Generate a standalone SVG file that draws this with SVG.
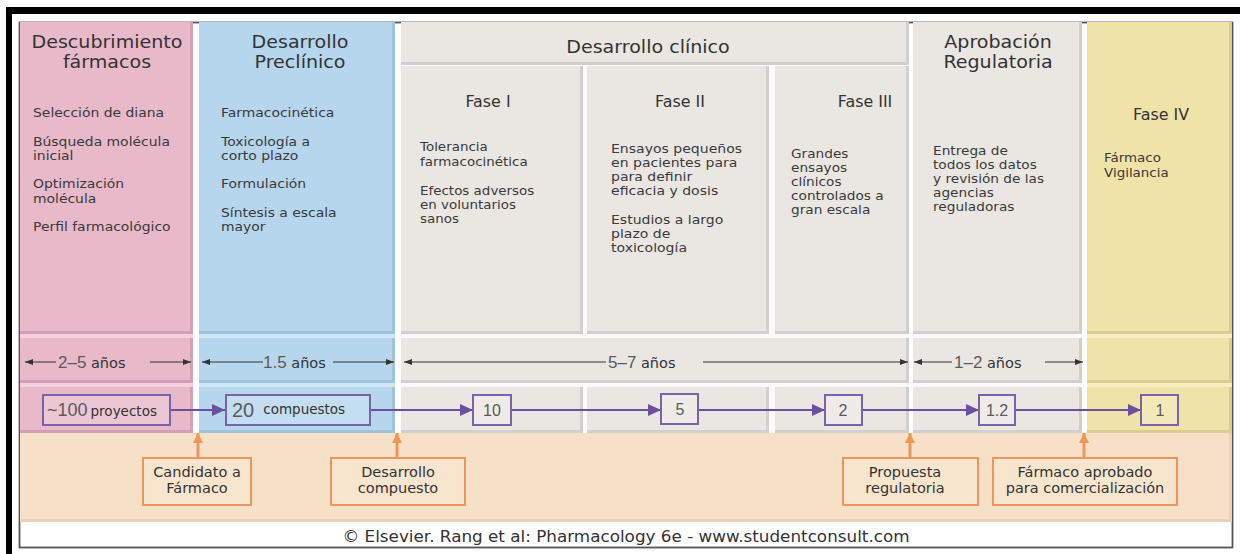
<svg xmlns="http://www.w3.org/2000/svg" width="1240" height="554" viewBox="0 0 1240 554">
<style>
.t{font-family:"DejaVu Sans","Noto Sans",sans-serif;fill:#333;}
.h{font-size:18px;text-anchor:middle;}
.f{font-size:15px;text-anchor:middle;}
.b{font-size:12px;fill:#3a3a3a;}
.o{font-size:14.5px;text-anchor:middle;}
.n{font-family:"Liberation Sans",Arial,sans-serif;fill:#5a5a5a;}
.pkS{fill:#D2A0B4}.pk{fill:#E8B9C9}.pkH{fill:#F3D0DC}
.blS{fill:#9EC3DC}.bl{fill:#B5D6EC}.blH{fill:#D0E6F5}
.grS{fill:#D2D0CE}.gr{fill:#EAE7E3}.grH{fill:#FBFAF9}
.ylS{fill:#D9CD92}.yl{fill:#F0E3A7}.ylH{fill:#F8EEC4}
.box{fill:#fff;fill-opacity:0.2;stroke:#7862AA;stroke-width:2;}
.ob{fill:#F8E5CE;stroke:#F0955A;stroke-width:2;}
.pl{stroke:#6B4FA0;stroke-width:2.2;fill:none;}
.dl{stroke:#333;stroke-width:1;fill:none;}
.ol{stroke:#F0955A;stroke-width:3;fill:none;}
</style>
<defs>
<marker id="ap" viewBox="0 0 13 12" refX="13" refY="6" markerWidth="13" markerHeight="12" markerUnits="userSpaceOnUse" orient="auto"><path d="M0,0 L13,6 L0,12 z" fill="#6B4FA0"/></marker>
<marker id="ad" viewBox="0 0 8 6" refX="8" refY="3" markerWidth="8" markerHeight="6" markerUnits="userSpaceOnUse" orient="auto"><path d="M0,0 L8,3 L0,6 z" fill="#333"/></marker>
<marker id="ao" viewBox="0 0 10 10" refX="10" refY="5" markerWidth="10" markerHeight="10" markerUnits="userSpaceOnUse" orient="auto"><path d="M0,0 L10,5 L0,10 z" fill="#F0955A"/></marker>
</defs>

<!-- outer frame -->
<rect x="0" y="0" width="1240" height="554" fill="#fff"/>
<rect x="6" y="7" width="1234" height="7" fill="#000"/>
<rect x="6" y="7" width="6" height="547" fill="#000"/>
<rect x="19.5" y="22.5" width="1213" height="525" fill="#fff" stroke="#555" stroke-width="1.8"/>

<!-- peach band -->
<g id="band">
<rect x="20" y="433" width="1212" height="89" fill="#E8D3BA"/>
<rect x="20" y="433" width="1209" height="86" fill="#F6E1C8"/>
</g>

<!-- Descubrimiento column -->
<g id="col-descubrimiento">
<rect x="20" y="22" width="173" height="411" class="pkH"/>
<rect x="20" y="22" width="173" height="312" class="pkS"/><rect x="20" y="22" width="170" height="309" class="pk"/>
<rect x="20" y="338" width="173" height="45" class="pkS"/><rect x="20" y="338" width="170" height="42" class="pk"/>
<rect x="20" y="387" width="173" height="46" class="pkS"/><rect x="20" y="387" width="170" height="43" class="pk"/>
<g transform="translate(107,0) scale(1.06,1)">
<text class="t h" x="0" y="48">Descubrimiento</text>
<text class="t h" x="0" y="68">fármacos</text>
</g>
<g transform="translate(33,0) scale(1.16,1)">
<text class="t b" x="0" y="117">Selección de diana</text>
<text class="t b" x="0" y="146">Búsqueda molécula</text>
<text class="t b" x="0" y="160">inicial</text>
<text class="t b" x="0" y="188">Optimización</text>
<text class="t b" x="0" y="203">molécula</text>
<text class="t b" x="0" y="231">Perfil farmacológico</text>
</g>
</g>

<!-- Preclinico column -->
<g id="col-preclinico">
<rect x="199" y="22" width="196" height="411" class="blH"/>
<rect x="199" y="22" width="196" height="312" class="blS"/><rect x="199" y="22" width="193" height="309" class="bl"/>
<rect x="199" y="338" width="196" height="45" class="blS"/><rect x="199" y="338" width="193" height="42" class="bl"/>
<rect x="199" y="387" width="196" height="46" class="blS"/><rect x="199" y="387" width="193" height="43" class="bl"/>
<g transform="translate(300,0) scale(1.06,1)">
<text class="t h" x="0" y="48">Desarrollo</text>
<text class="t h" x="0" y="68">Preclínico</text>
</g>
<g transform="translate(221,0) scale(1.16,1)">
<text class="t b" x="0" y="117">Farmacocinética</text>
<text class="t b" x="0" y="146">Toxicología a</text>
<text class="t b" x="0" y="160">corto plazo</text>
<text class="t b" x="0" y="188">Formulación</text>
<text class="t b" x="0" y="217">Síntesis a escala</text>
<text class="t b" x="0" y="231">mayor</text>
</g>
</g>

<!-- Clinical column -->
<g id="col-clinico">
<rect x="401" y="22" width="508" height="411" class="grH"/>
<rect x="401" y="22" width="508" height="43" class="grS"/><rect x="401" y="22" width="505" height="40" class="gr"/>
<g transform="translate(648,0) scale(1.06,1)"><text class="t h" x="0" y="53">Desarrollo clínico</text></g>
<rect x="401" y="338" width="508" height="45" class="grS"/><rect x="401" y="338" width="505" height="42" class="gr"/>
</g>
<g id="fase1">
<rect x="401" y="66" width="182" height="268" class="grS"/><rect x="401" y="66" width="179" height="265" class="gr"/>
<rect x="401" y="387" width="182" height="46" class="grS"/><rect x="401" y="387" width="179" height="43" class="gr"/>
<g transform="translate(488,0) scale(1.06,1)"><text class="t f" x="0" y="107">Fase I</text></g>
<g transform="translate(420,0) scale(1.12,1)">
<text class="t b" x="0" y="151">Tolerancia</text>
<text class="t b" x="0" y="166">farmacocinética</text>
<text class="t b" x="0" y="195">Efectos adversos</text>
<text class="t b" x="0" y="209">en voluntarios</text>
<text class="t b" x="0" y="223">sanos</text>
</g>
</g>
<g id="fase2">
<rect x="587" y="66" width="182" height="268" class="grS"/><rect x="587" y="66" width="179" height="265" class="gr"/>
<rect x="587" y="387" width="182" height="46" class="grS"/><rect x="587" y="387" width="179" height="43" class="gr"/>
<g transform="translate(680,0) scale(1.06,1)"><text class="t f" x="0" y="107">Fase II</text></g>
<g transform="translate(611,0) scale(1.17,1)">
<text class="t b" x="0" y="153">Ensayos pequeños</text>
<text class="t b" x="0" y="167">en pacientes para</text>
<text class="t b" x="0" y="181">para definir</text>
<text class="t b" x="0" y="195">eficacia y dosis</text>
<text class="t b" x="0" y="224">Estudios a largo</text>
<text class="t b" x="0" y="238">plazo de</text>
<text class="t b" x="0" y="252">toxicología</text>
</g>
</g>
<g id="fase3">
<rect x="775" y="66" width="134" height="268" class="grS"/><rect x="775" y="66" width="131" height="265" class="gr"/>
<rect x="775" y="387" width="134" height="46" class="grS"/><rect x="775" y="387" width="131" height="43" class="gr"/>
<g transform="translate(865,0) scale(1.06,1)"><text class="t f" x="0" y="107">Fase III</text></g>
<g transform="translate(791,0) scale(1.14,1)">
<text class="t b" x="0" y="158">Grandes</text>
<text class="t b" x="0" y="172">ensayos</text>
<text class="t b" x="0" y="186">clínicos</text>
<text class="t b" x="0" y="200">controlados a</text>
<text class="t b" x="0" y="214">gran escala</text>
</g>
</g>

<!-- Aprobacion column -->
<g id="col-aprobacion">
<rect x="913" y="22" width="169" height="411" class="grH"/>
<rect x="913" y="22" width="169" height="312" class="grS"/><rect x="913" y="22" width="166" height="309" class="gr"/>
<rect x="913" y="338" width="169" height="45" class="grS"/><rect x="913" y="338" width="166" height="42" class="gr"/>
<rect x="913" y="387" width="169" height="46" class="grS"/><rect x="913" y="387" width="166" height="43" class="gr"/>
<g transform="translate(998,0) scale(1.06,1)">
<text class="t h" x="0" y="48">Aprobación</text>
<text class="t h" x="0" y="68">Regulatoria</text>
</g>
<g transform="translate(933,0) scale(1.14,1)">
<text class="t b" x="0" y="155">Entrega de</text>
<text class="t b" x="0" y="169">todos los datos</text>
<text class="t b" x="0" y="183">y revisión de las</text>
<text class="t b" x="0" y="197">agencias</text>
<text class="t b" x="0" y="211">reguladoras</text>
</g>
</g>

<!-- Fase IV column -->
<g id="col-fase4">
<rect x="1087" y="22" width="145" height="411" class="ylH"/>
<rect x="1087" y="22" width="145" height="312" class="ylS"/><rect x="1087" y="22" width="142" height="309" class="yl"/>
<rect x="1087" y="338" width="145" height="45" class="ylS"/><rect x="1087" y="338" width="142" height="42" class="yl"/>
<rect x="1087" y="387" width="145" height="46" class="ylS"/><rect x="1087" y="387" width="142" height="43" class="yl"/>
<g transform="translate(1161,0) scale(1.06,1)"><text class="t f" x="0" y="120">Fase IV</text></g>
<g transform="translate(1104,0) scale(1.12,1)">
<text class="t b" x="0" y="162">Fármaco</text>
<text class="t b" x="0" y="177">Vigilancia</text>
</g>
</g>

<!-- durations -->
<g id="durations">
<path class="dl" d="M56,362 H25" marker-end="url(#ad)"/>
<path class="dl" d="M150,362 H191" marker-end="url(#ad)"/>
<text x="58" y="368"><tspan class="n" font-size="17">2–5</tspan><tspan class="t" font-size="14.5"> años</tspan></text>
<path class="dl" d="M263,362 H202" marker-end="url(#ad)"/>
<path class="dl" d="M333,362 H394" marker-end="url(#ad)"/>
<text x="263" y="368"><tspan class="n" font-size="17">1.5</tspan><tspan class="t" font-size="14.5"> años</tspan></text>
<path class="dl" d="M606,362 H404" marker-end="url(#ad)"/>
<path class="dl" d="M703,362 H908" marker-end="url(#ad)"/>
<text x="608" y="368"><tspan class="n" font-size="17">5–7</tspan><tspan class="t" font-size="14.5"> años</tspan></text>
<path class="dl" d="M952,362 H914" marker-end="url(#ad)"/>
<path class="dl" d="M1045,362 H1083" marker-end="url(#ad)"/>
<text x="954" y="368"><tspan class="n" font-size="17">1–2</tspan><tspan class="t" font-size="14.5"> años</tspan></text>
</g>

<!-- connectors -->
<g id="connectors">
<path class="pl" d="M170,410 H225" marker-end="url(#ap)"/>
<path class="pl" d="M370,410 H473" marker-end="url(#ap)"/>
<path class="pl" d="M511,410 H661" marker-end="url(#ap)"/>
<path class="pl" d="M698,410 H825" marker-end="url(#ap)"/>
<path class="pl" d="M862,410 H979" marker-end="url(#ap)"/>
<path class="pl" d="M1015,410 H1141" marker-end="url(#ap)"/>
<path class="ol" d="M198,458 V433" marker-end="url(#ao)"/>
<path class="ol" d="M397,458 V433" marker-end="url(#ao)"/>
<path class="ol" d="M910,458 V433" marker-end="url(#ao)"/>
<path class="ol" d="M1084,458 V433" marker-end="url(#ao)"/>
</g>

<!-- count nodes -->
<g id="n100"><rect class="box" x="43" y="395" width="127" height="30"/>
<text x="47" y="416"><tspan class="n" font-size="18">~100</tspan><tspan class="t" font-size="13.5" dx="3">proyectos</tspan></text></g>
<g id="n20"><rect class="box" x="226" y="395" width="144" height="30"/>
<text x="232" y="417"><tspan class="n" font-size="20">20</tspan><tspan class="t" font-size="13.5" dx="9" dy="-3">compuestos</tspan></text></g>
<g id="n10"><rect class="box" x="473" y="395" width="38" height="30"/><text class="n" font-size="16" x="492" y="416" text-anchor="middle">10</text></g>
<g id="n5"><rect class="box" x="661" y="394" width="37" height="30"/><text class="n" font-size="16" x="680" y="415" text-anchor="middle">5</text></g>
<g id="n2"><rect class="box" x="825" y="395" width="37" height="30"/><text class="n" font-size="16" x="843" y="416" text-anchor="middle">2</text></g>
<g id="n12"><rect class="box" x="979" y="395" width="36" height="30"/><text class="n" font-size="16" x="997" y="416" text-anchor="middle">1.2</text></g>
<g id="n1"><rect class="box" x="1141" y="395" width="37" height="30"/><text class="n" font-size="16" x="1160" y="416" text-anchor="middle">1</text></g>

<!-- milestone boxes -->
<g id="m-candidato"><rect class="ob" x="143" y="458" width="108" height="47"/>
<text class="t o" x="197" y="477">Candidato a</text><text class="t o" x="197" y="493">Fármaco</text></g>
<g id="m-desarrollo"><rect class="ob" x="331" y="458" width="134" height="47"/>
<text class="t o" x="398" y="477">Desarrollo</text><text class="t o" x="398" y="493">compuesto</text></g>
<g id="m-propuesta"><rect class="ob" x="843" y="458" width="135" height="47"/>
<text class="t o" x="905" y="477">Propuesta</text><text class="t o" x="905" y="493">regulatoria</text></g>
<g id="m-aprobado"><rect class="ob" x="993" y="458" width="184" height="47"/>
<text class="t o" x="1085" y="477">Fármaco aprobado</text><text class="t o" x="1085" y="493">para comercialización</text></g>

<g transform="translate(626,0) scale(1.12,1)">
<text class="t" font-size="15" x="0" y="542" text-anchor="middle">© Elsevier. Rang et al: Pharmacology 6e - www.studentconsult.com</text>
</g>
</svg>
